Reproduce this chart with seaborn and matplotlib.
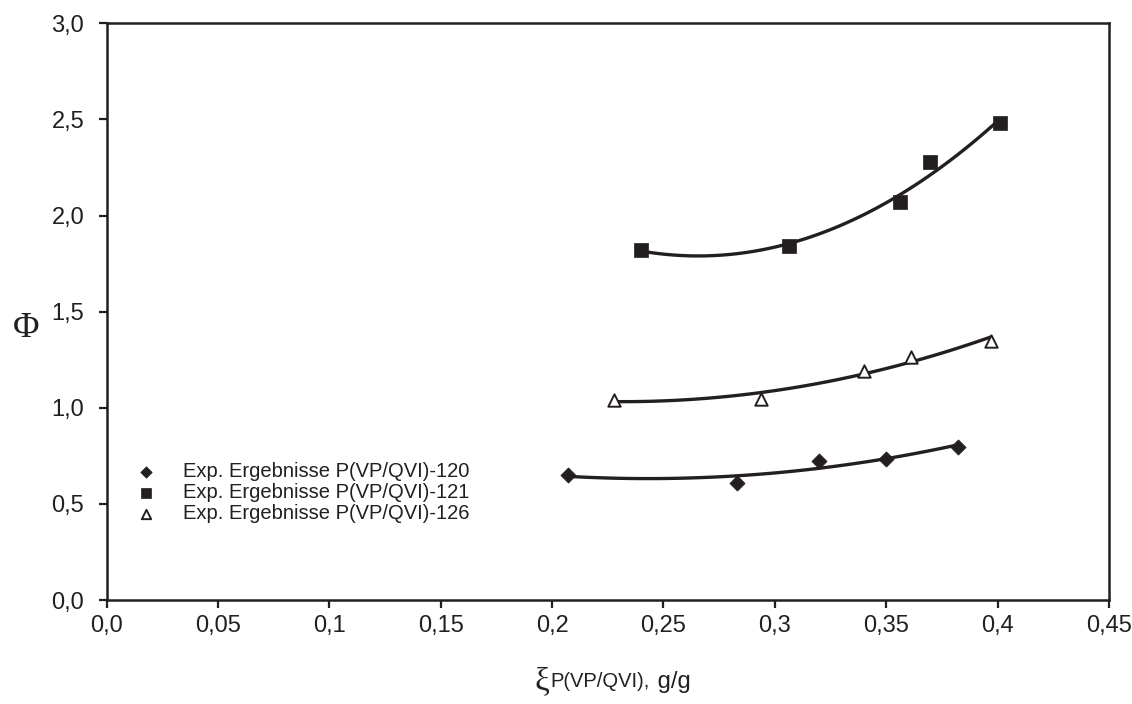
import numpy as np
import pandas as pd
import matplotlib
matplotlib.use("Agg")
import matplotlib.pyplot as plt
import seaborn as sns

# Measured points: mass ratio xi (g/g) vs. Phi for three samples
xi_120 = [0.207, 0.283, 0.320, 0.350, 0.382]
phi_120 = [0.650, 0.610, 0.725, 0.734, 0.798]

xi_121 = [0.240, 0.3065, 0.356, 0.3695, 0.401]
phi_121 = [1.820, 1.842, 2.068, 2.279, 2.479]

xi_126 = [0.228, 0.294, 0.340, 0.361, 0.397]
phi_126 = [1.042, 1.044, 1.193, 1.266, 1.349]

series_labels = [
    "Exp. Ergebnisse P(VP/QVI)-120",
    "Exp. Ergebnisse P(VP/QVI)-121",
    "Exp. Ergebnisse P(VP/QVI)-126",
]

x_ticks = [0.0, 0.05, 0.1, 0.15, 0.2, 0.25, 0.3, 0.35, 0.4, 0.45]
x_tick_labels = ["0,0", "0,05", "0,1", "0,15", "0,2", "0,25", "0,3", "0,35", "0,4", "0,45"]
y_ticks = [0.0, 0.5, 1.0, 1.5, 2.0, 2.5, 3.0]
y_tick_labels = ["0,0", "0,5", "1,0", "1,5", "2,0", "2,5", "3,0"]

sns.set_theme(style="white")
plt.rcParams["font.family"] = ["Liberation Sans", "DejaVu Sans"]

ink = "#231f20"
W, H = 1132, 704

fig = plt.figure(figsize=(W / 100, H / 100), dpi=100)
ax = fig.add_axes([106.5 / W, 1 - 600 / H, (1109 - 106.5) / W, (600 - 23.3) / H])

data = {
    "120": pd.DataFrame({"xi": xi_120, "phi": phi_120}),
    "121": pd.DataFrame({"xi": xi_121, "phi": phi_121}),
    "126": pd.DataFrame({"xi": xi_126, "phi": phi_126}),
}
styles = {
    "120": dict(marker="D", s=60, color=ink, edgecolor=ink, linewidth=0.5),
    "121": dict(marker="s", s=90, color=ink, edgecolor=ink, linewidth=0.5),
    "126": dict(marker="^", s=80, facecolor="white", edgecolor=ink, linewidth=1.4),
}

# second-order polynomial trend lines
for key, df in data.items():
    sns.regplot(data=df, x="xi", y="phi", order=2, ci=None, scatter=False,
                truncate=True, ax=ax, line_kws=dict(color=ink, lw=2.4))

for key, label in zip(["120", "121", "126"], series_labels):
    sns.scatterplot(data=data[key], x="xi", y="phi", ax=ax, label=label,
                    zorder=3, **styles[key])

ax.set_xlim(0, 0.45)
ax.set_ylim(0, 3.0)
ax.set_xticks(x_ticks)
ax.set_xticklabels(x_tick_labels)
ax.set_yticks(y_ticks)
ax.set_yticklabels(y_tick_labels)
ax.tick_params(axis="both", which="major", direction="out", length=6, width=1.6,
               color=ink, labelcolor=ink, labelsize=17)
ax.tick_params(axis="x", pad=5)
ax.tick_params(axis="y", pad=10)
ax.xaxis.set_ticks_position("bottom")
ax.yaxis.set_ticks_position("left")
for sp in ax.spines.values():
    sp.set_visible(True)
    sp.set_color(ink)
    sp.set_linewidth(1.8)

ax.set_xlabel("")
ax.set_ylabel("Φ", fontsize=26, rotation=0, color=ink, family="Liberation Serif",
              va="center", ha="center")
ax.yaxis.set_label_coords(-0.08, 0.47)

# x axis label: serif xi, sans subscript, then the unit
fig.canvas.draw()
renderer = fig.canvas.get_renderer()
parts = [
    ("ξ", dict(fontsize=24, family="Liberation Serif"), 690),
    ("P(VP/QVI),", dict(fontsize=14.5), 687),
    (" g/g", dict(fontsize=17), 688),
]
texts = []
for s, kw, base in parts:
    t = fig.text(0, 1 - base / H, s, color=ink, va="baseline", ha="left", **kw)
    texts.append(t)
widths = [t.get_window_extent(renderer).width for t in texts]
x = 612.5 - (sum(widths) + 2) / 2
for t, w in zip(texts, widths):
    t.set_x(x / W)
    x += w + 1

ax.legend(loc="upper left", bbox_to_anchor=(0.0174, 0.253), frameon=False,
          fontsize=14.5, labelspacing=0.1, handlelength=1.4, handletextpad=1.15,
          markerscale=0.75, borderaxespad=0, labelcolor=ink)

fig.savefig("out.png", dpi=100)
